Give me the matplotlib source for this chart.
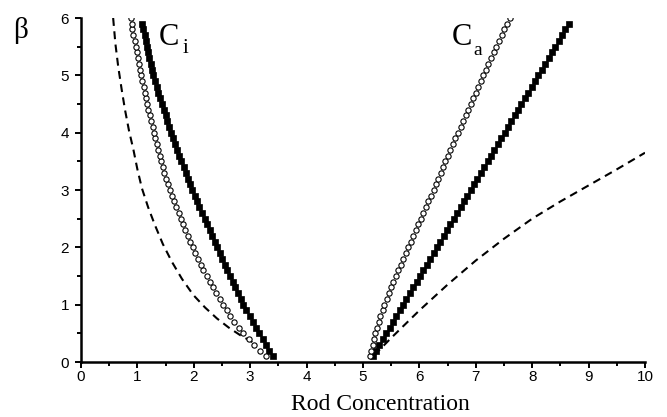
import matplotlib
matplotlib.use("Agg")
import matplotlib.pyplot as plt

# beta grid for the marker curves
beta = [0.1, 0.2, 0.3, 0.4, 0.5, 0.6, 0.7, 0.8, 0.9, 1.0,
        1.1, 1.2, 1.3, 1.4, 1.5, 1.6, 1.7, 1.8, 1.9, 2.0,
        2.1, 2.2, 2.3, 2.4, 2.5, 2.6, 2.7, 2.8, 2.9, 3.0,
        3.1, 3.2, 3.3, 3.4, 3.5, 3.6, 3.7, 3.8, 3.9, 4.0,
        4.1, 4.2, 4.3, 4.4, 4.5, 4.6, 4.7, 4.8, 4.9, 5.0,
        5.1, 5.2, 5.3, 5.4, 5.5, 5.6, 5.7, 5.8, 5.9, 6.0]

# C_i branch, filled squares (beta 0.1 .. 5.9)
ci_sq = [3.40, 3.34, 3.28, 3.22, 3.16, 3.11, 3.05, 2.99, 2.93, 2.88,
         2.83, 2.78, 2.73, 2.69, 2.64, 2.59, 2.55, 2.50, 2.46, 2.41,
         2.37, 2.32, 2.28, 2.24, 2.19, 2.15, 2.10, 2.06, 2.02, 1.97,
         1.93, 1.90, 1.86, 1.82, 1.78, 1.74, 1.70, 1.67, 1.63, 1.59,
         1.56, 1.53, 1.50, 1.47, 1.44, 1.40, 1.37, 1.34, 1.31, 1.28,
         1.26, 1.24, 1.21, 1.19, 1.17, 1.15, 1.13, 1.10, 1.08]

# C_i branch, open circles (beta 0.1 .. 6.0)
ci_oc = [3.28, 3.17, 3.06, 2.97, 2.88, 2.80, 2.72, 2.65, 2.58, 2.52,
         2.46, 2.40, 2.34, 2.28, 2.23, 2.17, 2.12, 2.07, 2.02, 1.98,
         1.94, 1.89, 1.85, 1.81, 1.77, 1.73, 1.69, 1.65, 1.61, 1.57,
         1.54, 1.51, 1.48, 1.45, 1.42, 1.40, 1.37, 1.34, 1.32, 1.29,
         1.27, 1.24, 1.22, 1.19, 1.17, 1.15, 1.13, 1.11, 1.09, 1.07,
         1.05, 1.03, 1.01, 0.99, 0.97, 0.95, 0.93, 0.91, 0.90, 0.88]

# C_a branch, open circles (beta 0.1 .. 6.0)
ca_oc = [5.12, 5.14, 5.17, 5.19, 5.22, 5.25, 5.28, 5.31, 5.35, 5.38,
         5.42, 5.46, 5.50, 5.54, 5.58, 5.62, 5.67, 5.71, 5.76, 5.80,
         5.85, 5.89, 5.94, 5.98, 6.03, 6.07, 6.12, 6.16, 6.20, 6.25,
         6.29, 6.33, 6.38, 6.42, 6.46, 6.51, 6.55, 6.60, 6.64, 6.68,
         6.73, 6.77, 6.82, 6.86, 6.91, 6.95, 7.00, 7.04, 7.09, 7.13,
         7.18, 7.22, 7.27, 7.32, 7.36, 7.41, 7.46, 7.50, 7.55, 7.60]

# C_a branch, filled squares (beta 0.1 .. 5.9)
ca_sq = [5.17, 5.23, 5.29, 5.35, 5.41, 5.47, 5.53, 5.59, 5.65, 5.71,
         5.77, 5.83, 5.89, 5.95, 6.01, 6.07, 6.13, 6.19, 6.25, 6.31,
         6.37, 6.43, 6.49, 6.55, 6.61, 6.67, 6.73, 6.79, 6.85, 6.91,
         6.97, 7.03, 7.09, 7.15, 7.21, 7.27, 7.33, 7.39, 7.45, 7.51,
         7.57, 7.63, 7.69, 7.75, 7.81, 7.87, 7.93, 7.99, 8.05, 8.11,
         8.17, 8.23, 8.29, 8.35, 8.41, 8.47, 8.53, 8.59, 8.65]

# dashed curves
ci_dash_x = [0.57, 0.61, 0.66, 0.72, 0.78, 0.85, 0.93, 1.00, 1.08, 1.19,
             1.31, 1.45, 1.61, 1.79, 1.99, 2.20, 2.41, 2.62, 2.82, 3.00, 3.10]
ci_dash_y = [6.00, 5.55, 5.15, 4.76, 4.40, 4.04, 3.70, 3.36, 3.03, 2.70,
             2.39, 2.06, 1.75, 1.45, 1.17, 0.95, 0.76, 0.60, 0.47, 0.37, 0.31]
ca_dash_x = [5.20, 5.50, 6.00, 6.50, 7.00, 7.50, 8.00, 8.50, 9.00, 9.50, 10.00]
ca_dash_y = [0.12, 0.42, 0.90, 1.35, 1.77, 2.15, 2.50, 2.80, 3.08, 3.36, 3.65]

x_ticks = [0, 1, 2, 3, 4, 5, 6, 7, 8, 9, 10]
y_ticks = [0, 1, 2, 3, 4, 5, 6]

plt.rcParams["font.family"] = ["Liberation Sans", "DejaVu Sans"]

fig = plt.figure(figsize=(6.67, 4.17), dpi=100)
ax = fig.add_axes([81 / 667, 55 / 417, 564 / 667, 344 / 417])

dash = (3.8, 2.6)
ax.plot(ci_dash_x, ci_dash_y, color="black", lw=1.5, dashes=dash)
ax.plot(ca_dash_x, ca_dash_y, color="black", lw=1.5, dashes=dash)

sq_kw = dict(ls="none", marker="s", ms=4.5, mfc="black", mec="black", mew=0.5)
oc_kw = dict(ls="none", marker="o", ms=3.8, mfc="white", mec="black", mew=0.8)
ax.plot(ci_sq, beta[:len(ci_sq)], **sq_kw)
ax.plot(ca_sq, beta[:len(ca_sq)], **sq_kw)
ax.plot(ci_oc, beta[:len(ci_oc)], **oc_kw)
ax.plot(ca_oc, beta[:len(ca_oc)], **oc_kw)

ax.set_xlim(0, 10)
ax.set_ylim(0, 6)
ax.set_xticks(x_ticks)
ax.set_yticks(y_ticks)
ax.set_xticks([v + 0.5 for v in x_ticks[:-1]], minor=True)
ax.set_yticks([v + 0.5 for v in y_ticks[:-1]], minor=True)
for s in ("top", "right"):
    ax.spines[s].set_visible(False)
for s in ("left", "bottom"):
    ax.spines[s].set_linewidth(1.8)
ax.tick_params(which="major", direction="out", length=4.5, width=1.4,
               labelsize=11, colors="black")
ax.tick_params(which="minor", direction="out", length=2.8, width=1.4)
ax.tick_params(axis="x", which="major", pad=1.5)
ax.tick_params(axis="y", which="major", pad=4)

serif = ["Liberation Serif", "DejaVu Serif"]
fig.text(380 / 667, 12 / 417, "Rod Concentration", family=serif,
         fontsize=17, ha="center", va="center")
fig.text(13 / 667, 1 - 31 / 417, "β", family=serif, fontsize=21,
         ha="left", va="center")

ax.text(1.38, 5.53, "C", family=serif, fontsize=22, ha="left", va="baseline")
ax.text(1.80, 5.39, "i", family=serif, fontsize=15, ha="left", va="baseline")
ax.text(6.58, 5.53, "C", family=serif, fontsize=22, ha="left", va="baseline")
ax.text(6.96, 5.36, "a", family=serif, fontsize=14, ha="left", va="baseline")

fig.savefig("out.png", dpi=100)
